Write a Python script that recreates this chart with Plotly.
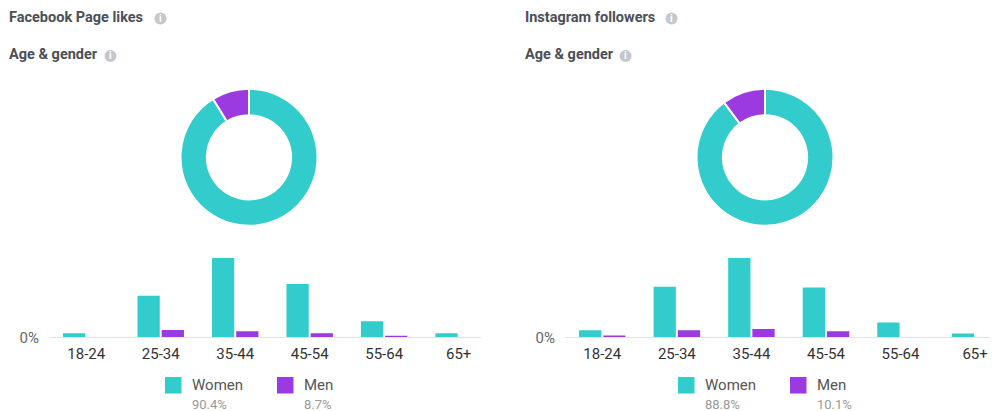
import plotly.graph_objects as go

# ---- data ----
age_groups = ["18-24", "25-34", "35-44", "45-54", "55-64", "65+"]

fb_women = [1.8, 19.0, 36.2, 24.3, 7.3, 1.8]
fb_men = [0.0, 3.3, 2.8, 1.9, 0.7, 0.0]
fb_totals = {"Women": 90.4, "Men": 8.7}

ig_women = [3.1, 21.9, 34.3, 21.5, 6.4, 1.6]
ig_men = [0.8, 3.1, 3.6, 2.6, 0.0, 0.0]
ig_totals = {"Women": 88.8, "Men": 10.1}

panel_titles = ["Facebook Page likes", "Instagram followers"]
subtitle = "Age & gender"
zero_label = "0%"

# ---- style ----
W, H = 992, 411
WOMEN = "#33CCCC"
MEN = "#9B3AE0"
TITLE_C = "#4b4f56"
FONT = "Roboto, Arial, sans-serif"


def fx(px):
    return px / W


def fy(py):
    return (H - py) / H


fig = go.Figure()

panels = [
    dict(women=fb_women, men=fb_men, totals=fb_totals, title=panel_titles[0],
         x0=7, icon1=160.5, icon2=110.5, donut_cx=249,
         axis=(49, 481), xmax=5.3, leg_x=165),
    dict(women=ig_women, men=ig_men, totals=ig_totals, title=panel_titles[1],
         x0=523, icon1=671.5, icon2=625.5, donut_cx=765,
         axis=(565, 990), xmax=5.2, leg_x=678),
]

shapes = []
annotations = []
y_base, y_top = 337.3, 258.0
donut_cy, donut_r = 157.3, 68.5

for i, p in enumerate(panels, start=1):
    xa = "x" if i == 1 else f"x{i}"
    ya = "y" if i == 1 else f"y{i}"

    # grouped bars per age bracket
    fig.add_trace(go.Bar(x=age_groups, y=p["women"], name="Women",
                         marker=dict(color=WOMEN, line_width=0),
                         xaxis=xa, yaxis=ya, showlegend=False))
    fig.add_trace(go.Bar(x=age_groups, y=p["men"], name="Men",
                         marker=dict(color=MEN, line_width=0),
                         xaxis=xa, yaxis=ya, showlegend=False))

    # donut of overall split: women from 12 o'clock clockwise, men closes the ring
    cx = p["donut_cx"]
    fig.add_trace(go.Pie(
        labels=["Women", "Men"],
        values=[p["totals"]["Women"], p["totals"]["Men"]],
        hole=0.615, sort=False, direction="clockwise", rotation=0,
        marker=dict(colors=[WOMEN, MEN], line=dict(color="white", width=2)),
        textinfo="none", showlegend=False,
        domain=dict(x=[fx(cx - donut_r), fx(cx + donut_r)],
                    y=[fy(donut_cy + donut_r), fy(donut_cy - donut_r)]),
    ))

    ax_l, ax_r = p["axis"]
    xkey = "xaxis" if i == 1 else f"xaxis{i}"
    ykey = "yaxis" if i == 1 else f"yaxis{i}"
    fig.update_layout(**{
        xkey: dict(domain=[fx(ax_l), fx(ax_r)], range=[-0.5, p["xmax"]],
                   type="category", showline=True, linecolor="#e3e3e3",
                   linewidth=1, showgrid=False, zeroline=False,
                   ticks="", ticklabelstandoff=3, automargin=False,
                   tickfont=dict(family=FONT, size=15, color="#333333"),
                   anchor=ya, fixedrange=True),
        ykey: dict(domain=[fy(y_base), fy(y_top)],
                   range=[0, max(p["women"] + p["men"])],
                   tickvals=[0], ticktext=[zero_label], showgrid=False,
                   zeroline=False, showline=False, ticks="",
                   ticklabelstandoff=9, automargin=False,
                   tickfont=dict(family=FONT, size=15, color="#666666"),
                   anchor=xa, fixedrange=True),
    })

    # headings with info icons
    annotations.append(dict(x=fx(p["x0"]), y=fy(18), text=f"<b>{p['title']}</b>",
                            xref="paper", yref="paper",
                            xanchor="left", yanchor="middle", showarrow=False,
                            font=dict(family=FONT, size=14.5, color=TITLE_C)))
    annotations.append(dict(x=fx(p["x0"]), y=fy(55), text=f"<b>{subtitle}</b>",
                            xref="paper", yref="paper",
                            xanchor="left", yanchor="middle", showarrow=False,
                            font=dict(family=FONT, size=14.5, color=TITLE_C)))
    for icx, icy in ((p["icon1"], 18.5), (p["icon2"], 56)):
        shapes.append(dict(type="circle", xref="paper", yref="paper",
                           x0=fx(icx - 6), x1=fx(icx + 6),
                           y0=fy(icy + 6), y1=fy(icy - 6),
                           fillcolor="#c4c7cc", line_width=0))
        annotations.append(dict(x=fx(icx), y=fy(icy), text="<b>i</b>",
                                xref="paper", yref="paper",
                                showarrow=False, xanchor="center", yanchor="middle",
                                font=dict(family=FONT, size=10, color="white")))

    # legend swatches with totals
    lx = p["leg_x"]
    for k, (lab, col) in enumerate((("Women", WOMEN), ("Men", MEN))):
        sx = lx + k * 112
        shapes.append(dict(type="rect", xref="paper", yref="paper",
                           x0=fx(sx), x1=fx(sx + 16.5), y0=fy(393.5), y1=fy(377),
                           fillcolor=col, line_width=0))
        annotations.append(dict(x=fx(sx + 25), y=fy(385), text=lab,
                                xref="paper", yref="paper",
                                xanchor="left", yanchor="middle", showarrow=False,
                                font=dict(family=FONT, size=15, color="#555555")))
        annotations.append(dict(x=fx(sx + 25), y=fy(404), text=f"{p['totals'][lab]}%",
                                xref="paper", yref="paper",
                                xanchor="left", yanchor="middle", showarrow=False,
                                font=dict(family=FONT, size=13, color="#999999")))

fig.update_layout(
    width=W, height=H, margin=dict(l=0, r=0, t=0, b=0, pad=0, autoexpand=False),
    paper_bgcolor="white", plot_bgcolor="white",
    barmode="group", bargap=0.35, bargroupgap=0.08,
    shapes=shapes, annotations=annotations,
    font=dict(family=FONT),
)

fig.write_html("out.html", config={"displayModeBar": False})
